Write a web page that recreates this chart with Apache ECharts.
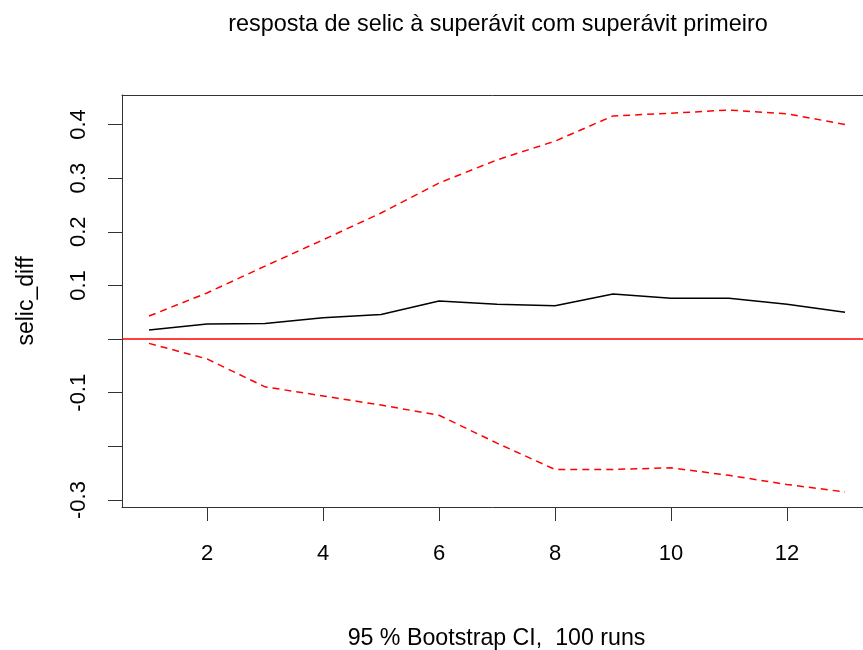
<!DOCTYPE html>
<html>
<head>
<meta charset="utf-8">
<script src="https://cdn.jsdelivr.net/npm/echarts@6/dist/echarts.min.js"></script>
<style>html,body{margin:0;padding:0;background:#fff}#c{width:863px;height:650px}</style>
</head>
<body>
<div id="c"></div>
<script>
var horizon = [1,2,3,4,5,6,7,8,9,10,11,12,13];
var irf   = [0.017,0.028,0.029,0.040,0.046,0.071,0.065,0.062,0.084,0.076,0.076,0.065,0.050];
var upper = [0.043,0.086,0.136,0.185,0.235,0.291,0.334,0.369,0.416,0.421,0.427,0.420,0.400];
var lower = [-0.008,-0.037,-0.089,-0.106,-0.123,-0.142,-0.194,-0.243,-0.243,-0.240,-0.254,-0.271,-0.285];
var xTicks = [2,4,6,8,10,12];
var yTicks = [-0.3,-0.2,-0.1,0,0.1,0.2,0.3,0.4];
var yLabels = [-0.3,-0.1,0.1,0.2,0.3,0.4];

function pairs(v){ return horizon.map(function(h,i){ return [h, v[i]]; }); }
var font = 'Liberation Sans, Arial, sans-serif';
var axisCol = '#333';
var chart = echarts.init(document.getElementById('c'), null, {renderer:'canvas'});
chart.setOption({
  animation:false,
  backgroundColor:'#fff',
  title:{
    text:'resposta de selic à superávit com superávit primeiro',
    left:493, top:8, textAlign:'center',
    textStyle:{fontFamily:font, fontWeight:'normal', fontSize:23.4, color:'#000'}
  },
  grid:{left:122, top:95, right:0, bottom:143, show:false, outerBoundsMode:'none', containLabel:false},
  xAxis:[{
    type:'value', min:0.534, max:13.31,
    name:'95 % Bootstrap CI,  100 runs', nameLocation:'middle', nameGap:120,
    nameTextStyle:{fontFamily:font, fontSize:23.2, color:'#000', padding:[0,0,0,8]},
    axisLine:{show:true, onZero:false, lineStyle:{color:axisCol, width:1}},
    axisTick:{show:true, customValues:xTicks, length:14, lineStyle:{color:axisCol}},
    axisLabel:{customValues:xTicks, margin:36, fontFamily:font, fontSize:22, color:'#000'},
    splitLine:{show:false}
  },{
    type:'value', position:'top', min:0.534, max:13.31,
    axisLine:{show:true, onZero:false, lineStyle:{color:axisCol, width:1}},
    axisTick:{show:false}, axisLabel:{show:false}, splitLine:{show:false}
  }],
  yAxis:{
    type:'value', min:-0.313, max:0.455,
    name:'selic_diff', nameLocation:'middle', nameGap:84, nameRotate:90,
    nameTextStyle:{fontFamily:font, fontSize:23, color:'#000'},
    axisLine:{show:true, onZero:false, lineStyle:{color:axisCol, width:1}},
    axisTick:{show:true, customValues:yTicks, length:14, lineStyle:{color:axisCol}},
    axisLabel:{customValues:yLabels, rotate:90, margin:32, fontFamily:font, fontSize:22, color:'#000'},
    splitLine:{show:false}
  },
  series:[
    {type:'line', data:pairs(irf), symbol:'none', lineStyle:{color:'#000', width:1.5},
     markLine:{silent:true, symbol:'none', label:{show:false}, lineStyle:{color:'#ff0000', width:1.5, type:'solid'}, data:[{yAxis:0}]}},
    {type:'line', data:pairs(upper), symbol:'none', lineStyle:{color:'#ff0000', width:1.5, type:[7,5]}},
    {type:'line', data:pairs(lower), symbol:'none', lineStyle:{color:'#ff0000', width:1.5, type:[7,5]}}
  ]
});
</script>
</body>
</html>
